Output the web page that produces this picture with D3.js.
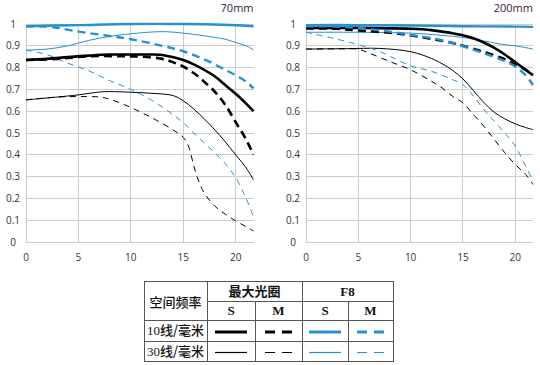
<!DOCTYPE html>
<html><head><meta charset="utf-8">
<script src="https://cdn.jsdelivr.net/npm/d3@7/dist/d3.min.js"></script>
<style>body{margin:0;background:#fff;}svg{display:block;}</style>
</head><body>
<svg id="c" width="540" height="365"></svg>
<script>
// ---------- data ----------
const xTicks = [0, 5, 10, 15, 20];
const yTicks = [0, 0.1, 0.2, 0.3, 0.4, 0.5, 0.6, 0.7, 0.8, 0.9, 1];
const xMax = 21.7;
const titles = ["70mm", "200mm"];

// 70mm
const w_max10S = [[0,0.835],[2,0.84],[4,0.848],[6,0.855],[8,0.86],[10,0.86],[12,0.86],[13,0.858],[14,0.848],[15,0.835],[16,0.815],[17,0.79],[18,0.76],[19,0.72],[20,0.68],[21,0.635],[21.7,0.6]];
const w_max10M = [[0,0.835],[3,0.84],[6,0.852],[9,0.852],[11,0.85],[13,0.84],[14,0.825],[15,0.805],[16,0.775],[17,0.735],[18,0.69],[19,0.63],[20,0.55],[21,0.47],[21.7,0.4]];
const w_f810S = [[0,0.99],[5,0.995],[10,1.0],[15,1.0],[18,0.998],[21.7,0.99]];
const w_f810M = [[0,0.99],[2,0.988],[3,0.982],[5,0.965],[8,0.945],[10,0.93],[13,0.9],[15,0.875],[17,0.838],[19,0.79],[20,0.765],[21,0.735],[21.7,0.705]];
const w_max30S = [[0,0.652],[3,0.665],[5,0.675],[7,0.688],[8,0.69],[10,0.687],[12,0.682],[14,0.672],[15,0.648],[16,0.61],[17,0.565],[18,0.515],[19,0.46],[20,0.4],[21,0.34],[21.7,0.285]];
const w_max30M = [[0,0.652],[3,0.665],[5,0.667],[7,0.665],[8,0.655],[10,0.617],[12,0.57],[14,0.515],[15,0.48],[15.5,0.44],[16,0.35],[16.5,0.275],[17,0.225],[18,0.165],[19,0.128],[20,0.097],[21,0.07],[21.7,0.05]];
const w_f830S = [[0,0.88],[2,0.885],[4,0.9],[6,0.925],[8,0.943],[10,0.955],[13,0.965],[15,0.958],[17,0.946],[19,0.93],[20,0.915],[21,0.9],[21.7,0.882]];
const w_f830M = [[0,0.88],[2,0.86],[4,0.82],[6,0.785],[8,0.74],[10,0.7],[12,0.65],[14,0.585],[15,0.547],[16,0.5],[17,0.455],[18,0.41],[19,0.36],[20,0.295],[21,0.2],[21.7,0.115]];

// 200mm
const t_max10S = [[0,0.982],[5,0.982],[10,0.978],[12,0.972],[13,0.965],[14,0.958],[15,0.948],[16,0.935],[17,0.915],[18,0.89],[19,0.86],[20,0.825],[21,0.79],[21.7,0.765]];
const t_max10M = [[0,0.98],[3,0.978],[5,0.97],[8,0.96],[10,0.948],[12,0.932],[14,0.913],[15,0.9],[17,0.872],[19,0.838],[20,0.815],[21,0.79],[21.7,0.768]];
const t_f810S = [[0,0.995],[5,0.995],[10,0.993],[15,0.99],[20,0.988],[21.7,0.987]];
const t_f810M = [[0,0.99],[3,0.988],[5,0.982],[8,0.965],[10,0.95],[12,0.935],[14,0.913],[15,0.898],[17,0.866],[19,0.83],[20,0.805],[21,0.765],[21.7,0.72]];
const t_max30S = [[0,0.885],[4,0.887],[7,0.888],[10,0.873],[12,0.842],[13,0.818],[14,0.788],[15,0.748],[16,0.695],[17,0.64],[18,0.595],[19,0.565],[20,0.542],[21,0.525],[21.7,0.515]];
const t_max30M = [[0,0.885],[3,0.886],[5,0.884],[6,0.867],[8,0.828],[10,0.79],[12,0.737],[13,0.707],[14,0.669],[15,0.638],[16,0.585],[17,0.531],[18,0.47],[19,0.41],[20,0.356],[21,0.31],[21.7,0.264]];
const t_f830S = [[0,0.962],[5,0.962],[10,0.958],[13,0.948],[15,0.938],[17,0.922],[19,0.905],[20,0.9],[21.7,0.885]];
const t_f830M = [[0,0.962],[3,0.93],[5,0.905],[7,0.875],[10,0.808],[12,0.783],[14,0.745],[15,0.722],[16,0.669],[17,0.608],[18,0.554],[19,0.5],[20,0.44],[21,0.348],[21.7,0.28]];

const legendCols = ["S", "M", "S", "M"];
const legendRows = ["10线/毫米", "30线/毫米"];

// ---------- styles ----------
const BLUE = "#2590d2";
const styleOf = {
  max10S: {c:"#000", w:2.6, d:null},
  max10M: {c:"#000", w:2.6, d:"8,5"},
  f810S:  {c:BLUE,  w:2.4, d:null},
  f810M:  {c:BLUE,  w:2.4, d:"8,5"},
  max30S: {c:"#000", w:1, d:null},
  max30M: {c:"#000", w:1, d:"6,5"},
  f830S:  {c:BLUE,  w:1, d:null},
  f830M:  {c:BLUE,  w:1, d:"6,5"}
};
const order = ["max30M","max30S","f830M","f830S","max10M","max10S","f810M","f810S"];

const charts = [
  {title: titles[0], x0: 26, x1: 253.5, series: {max10S:w_max10S,max10M:w_max10M,f810S:w_f810S,f810M:w_f810M,max30S:w_max30S,max30M:w_max30M,f830S:w_f830S,f830M:w_f830M}},
  {title: titles[1], x0: 306, x1: 533, series: {max10S:t_max10S,max10M:t_max10M,f810S:t_f810S,f810M:t_f810M,max30S:t_max30S,max30M:t_max30M,f830S:t_f830S,f830M:t_f830M}}
];

const svg = d3.select("#c");
const y = d3.scaleLinear().domain([0,1]).range([242, 24]);

charts.forEach(ch => {
  const x = d3.scaleLinear().domain([0, xMax]).range([ch.x0, ch.x1]);
  const g = svg.append("g");
  // grid
  g.selectAll("line.h").data(yTicks).join("line")
    .attr("x1", x(0)).attr("x2", x(xMax)).attr("y1", d => y(d)).attr("y2", d => y(d))
    .attr("stroke", "#cccccc").attr("stroke-width", 1).attr("shape-rendering","crispEdges");
  g.selectAll("line.v").data(xTicks).join("line")
    .attr("x1", d => x(d)).attr("x2", d => x(d)).attr("y1", y(0)).attr("y2", y(1))
    .attr("stroke", "#cccccc").attr("stroke-width", 1).attr("shape-rendering","crispEdges");
  // axis labels
  g.selectAll("text.y").data(yTicks).join("text")
    .attr("x", x(0) - 13).attr("y", d => y(d)).attr("dy", "0.35em")
    .attr("text-anchor", "middle").attr("font-family", "'Open Sans', 'DejaVu Sans', sans-serif")
    .attr("font-size", 10).attr("fill", "#333").text(d => d3.format("~g")(d));
  g.selectAll("text.x").data(xTicks).join("text")
    .attr("x", d => x(d)).attr("y", 257).attr("dy", "0.35em")
    .attr("text-anchor", "middle").attr("font-family", "'Open Sans', 'DejaVu Sans', sans-serif")
    .attr("font-size", 10).attr("fill", "#333").text(d => d);
  g.append("text").attr("x", x(xMax)).attr("y", 8).attr("dy", "0.35em")
    .attr("text-anchor", "end").attr("font-family", "'Open Sans', 'DejaVu Sans', sans-serif")
    .attr("font-size", 11).attr("fill", "#3a1a3a").text(ch.title);
  // lines
  const line = d3.line().x(d => x(d[0])).y(d => y(d[1])).curve(d3.curveCatmullRom.alpha(0.5));
  order.forEach(k => {
    const s = styleOf[k];
    g.append("path").datum(ch.series[k]).attr("d", line)
      .attr("fill", "none").attr("stroke", s.c).attr("stroke-width", s.w)
      .attr("stroke-dasharray", s.d);
  });
});

// ---------- legend table ----------
const L = svg.append("g");
const colX = [144, 207, 255, 302, 348, 393];
const rowY = [281, 301, 320, 341, 361];
const border = "#555";
function ln(x1,y1,x2,y2){ L.append("line").attr("x1",x1).attr("y1",y1).attr("x2",x2).attr("y2",y2).attr("stroke",border).attr("stroke-width",1).attr("shape-rendering","crispEdges"); }
L.append("rect").attr("x",colX[0]).attr("y",rowY[0]).attr("width",colX[5]-colX[0]).attr("height",rowY[4]-rowY[0])
  .attr("fill","none").attr("stroke",border).attr("stroke-width",1).attr("shape-rendering","crispEdges");
ln(colX[1], rowY[1], colX[5], rowY[1]);
ln(colX[0], rowY[2], colX[5], rowY[2]);
ln(colX[0], rowY[3], colX[5], rowY[3]);
ln(colX[1], rowY[0], colX[1], rowY[4]);
ln(colX[3], rowY[0], colX[3], rowY[4]);
ln(colX[2], rowY[1], colX[2], rowY[4]);
ln(colX[4], rowY[1], colX[4], rowY[4]);

const cjk = "'Noto Sans CJK SC', sans-serif";
const serif = "'Liberation Serif', 'DejaVu Serif', serif";
function tx(x, yy, t, fam, w){ L.append("text").attr("x",x).attr("y",yy).attr("dy","0.35em").attr("text-anchor","middle")
  .attr("font-family",fam).attr("font-size",13).attr("font-weight",w||"normal").attr("fill","#111").text(t); }
tx((colX[0]+colX[1])/2, rowY[1]+1, "空间频率", cjk, "500");
tx((colX[1]+colX[3])/2, (rowY[0]+rowY[1])/2, "最大光圈", cjk, "bold");
tx((colX[3]+colX[5])/2, (rowY[0]+rowY[1])/2, "F8", serif, "bold");
legendCols.forEach((t,i) => tx((colX[i+1]+colX[i+2])/2, (rowY[1]+rowY[2])/2, t, serif, "bold"));
legendRows.forEach((t,i) => {
  const yy = (rowY[i+2]+rowY[i+3])/2;
  const tt = L.append("text").attr("x",(colX[0]+colX[1])/2).attr("y",yy).attr("dy","0.35em").attr("text-anchor","middle")
    .attr("font-size",13).attr("fill","#111");
  tt.append("tspan").attr("font-family",serif).text(t.slice(0,2));
  tt.append("tspan").attr("font-family",cjk).attr("font-weight","500").text(t.slice(2));
});
const keys = [["max10S","max10M","f810S","f810M"],["max30S","max30M","f830S","f830M"]];
keys.forEach((row,ri) => {
  const yy = (rowY[ri+2]+rowY[ri+3])/2 + 1.5;
  row.forEach((k,ci) => {
    const s = styleOf[k];
    const cx = (colX[ci+1]+colX[ci+2])/2;
    const isDash = s.d !== null;
    const half = isDash ? 13.5 : 16;
    L.append("line").attr("x1",cx-half).attr("x2",cx+half).attr("y1",yy).attr("y2",yy)
      .attr("stroke",s.c).attr("stroke-width", ri===0 ? 3 : 1.2)
      .attr("stroke-dasharray", isDash ? "10,7" : null);
  });
});
</script>
</body></html>
